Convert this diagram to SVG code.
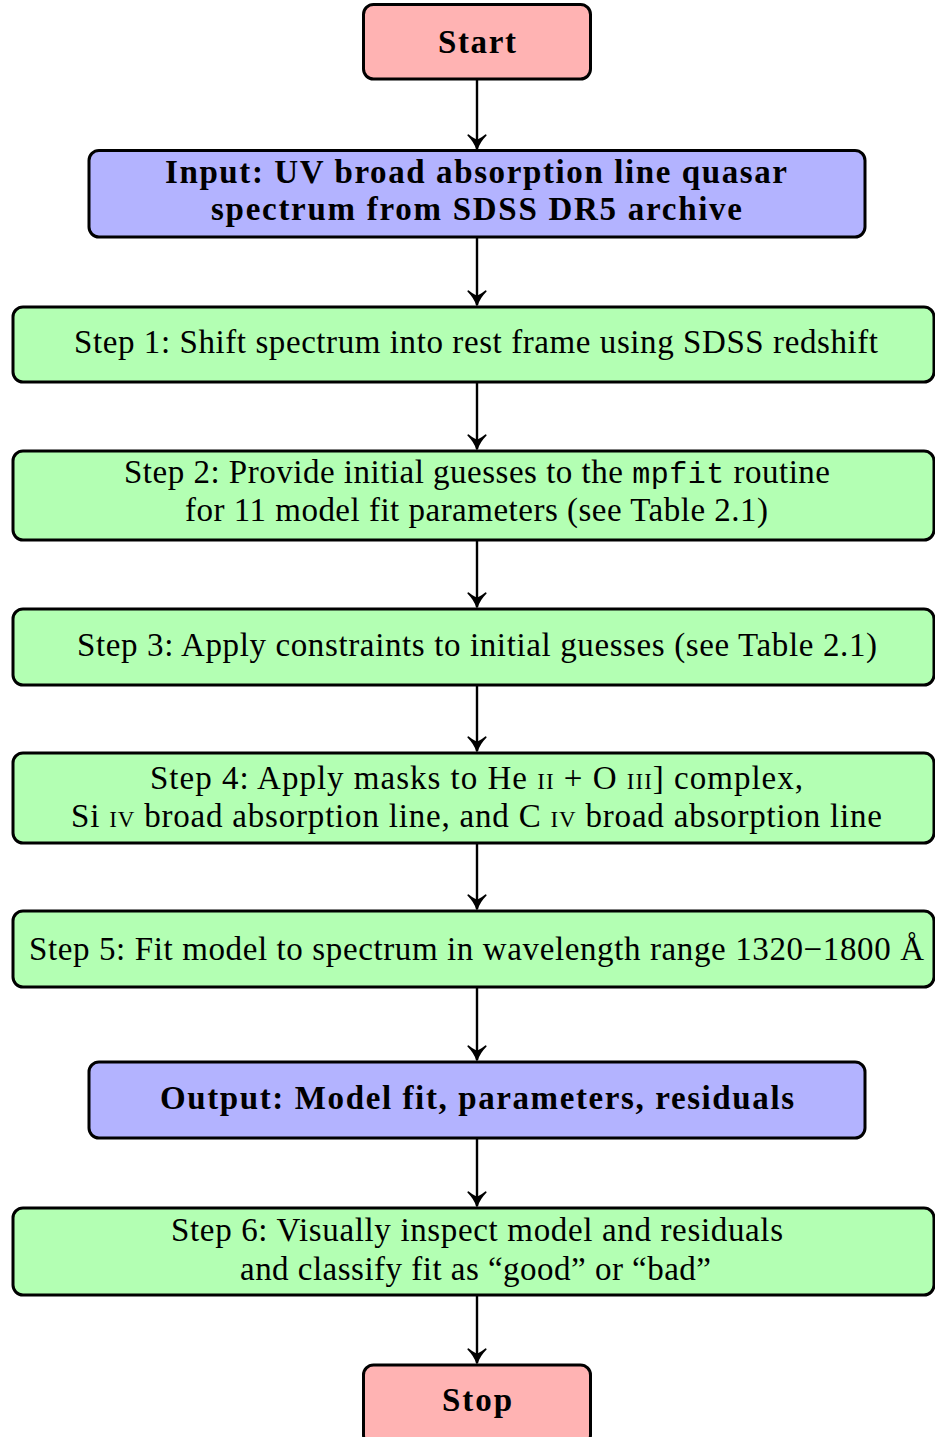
<svg xmlns="http://www.w3.org/2000/svg" width="935" height="1437" viewBox="0 0 935 1437">
<defs>
<style>
.box{stroke:#000;stroke-width:3}
.red{fill:#FFB3B3}
.blue{fill:#B3B3FF}
.green{fill:#B3FFB3}
text{font-family:"Liberation Serif","Times New Roman",serif;font-size:33px;fill:#000;text-anchor:middle}
.b{font-weight:bold}
.mono{font-family:"Liberation Mono","DejaVu Sans Mono",monospace;font-size:30px}
.sc{font-variant:small-caps}
.conn{stroke:#000;stroke-width:2.4;fill:none;marker-end:url(#arr)}
</style>
<marker id="arr" markerUnits="userSpaceOnUse" markerWidth="20" markerHeight="20" viewBox="-12 -8 14 16" refX="0" refY="0" orient="auto">
<path d="M0,0 Q-6,-2 -11,-7 Q-7,-2 -7,0 Q-7,2 -11,7 Q-6,2 0,0 Z" fill="#000" stroke="#000" stroke-width="1.4" stroke-linejoin="round"/>
</marker>
</defs>
<g id="connectors">
<line class="conn" x1="477" y1="79" x2="477" y2="149"/>
<line class="conn" x1="477" y1="237" x2="477" y2="305"/>
<line class="conn" x1="477" y1="382" x2="477" y2="449"/>
<line class="conn" x1="477" y1="540" x2="477" y2="607"/>
<line class="conn" x1="477" y1="685" x2="477" y2="751"/>
<line class="conn" x1="477" y1="843" x2="477" y2="909"/>
<line class="conn" x1="477" y1="987" x2="477" y2="1060"/>
<line class="conn" x1="477" y1="1138" x2="477" y2="1206"/>
<line class="conn" x1="477" y1="1295" x2="477" y2="1363"/>
</g>
<g id="start">
<rect class="box red" x="363.5" y="4.5" width="227" height="74.5" rx="10"/>
<text class="b" x="477" y="53" textLength="78" lengthAdjust="spacing">Start</text>
</g>
<g id="input">
<rect class="box blue" x="89" y="150.5" width="776" height="86.5" rx="10"/>
<text class="b" x="476" y="183" textLength="622" lengthAdjust="spacing">Input: UV broad absorption line quasar</text>
<text class="b" x="476.5" y="220" textLength="531" lengthAdjust="spacing">spectrum from SDSS DR5 archive</text>
</g>
<g id="step1">
<rect class="box green" x="13" y="307" width="921" height="75" rx="10"/>
<text x="476" y="353" textLength="804" lengthAdjust="spacing">Step 1: Shift spectrum into rest frame using SDSS redshift</text>
</g>
<g id="step2">
<rect class="box green" x="13" y="451" width="921" height="89" rx="10"/>
<text x="477" y="483" textLength="706" lengthAdjust="spacing">Step 2: Provide initial guesses to the <tspan class="mono">mpfit</tspan> routine</text>
<text x="476.5" y="521" textLength="583" lengthAdjust="spacing">for 11 model fit parameters (see Table 2.1)</text>
</g>
<g id="step3">
<rect class="box green" x="13" y="609" width="921" height="76" rx="10"/>
<text x="477" y="656" textLength="800" lengthAdjust="spacing">Step 3: Apply constraints to initial guesses (see Table 2.1)</text>
</g>
<g id="step4">
<rect class="box green" x="13" y="753" width="921" height="90" rx="10"/>
<text x="476.5" y="789" textLength="653" lengthAdjust="spacing">Step 4: Apply masks to He <tspan class="sc">ii</tspan> + O <tspan class="sc">iii</tspan>] complex,</text>
<text x="476.5" y="827" textLength="811" lengthAdjust="spacing">Si <tspan class="sc">iv</tspan> broad absorption line, and C <tspan class="sc">iv</tspan> broad absorption line</text>
</g>
<g id="step5">
<rect class="box green" x="13" y="911" width="921" height="76" rx="10"/>
<text x="476.5" y="960" textLength="895" lengthAdjust="spacing">Step 5: Fit model to spectrum in wavelength range 1320−1800 Å</text>
</g>
<g id="output">
<rect class="box blue" x="89" y="1062" width="776" height="76" rx="10"/>
<text class="b" x="477" y="1109" textLength="634" lengthAdjust="spacing">Output: Model fit, parameters, residuals</text>
</g>
<g id="step6">
<rect class="box green" x="13" y="1208" width="921" height="87" rx="10"/>
<text x="477" y="1241" textLength="612" lengthAdjust="spacing">Step 6: Visually inspect model and residuals</text>
<text x="475.5" y="1280" textLength="471" lengthAdjust="spacing">and classify fit as “good” or “bad”</text>
</g>
<g id="stop">
<rect class="box red" x="363.5" y="1365" width="227" height="80" rx="10"/>
<text class="b" x="477" y="1411" textLength="70" lengthAdjust="spacing">Stop</text>
</g>
</svg>
